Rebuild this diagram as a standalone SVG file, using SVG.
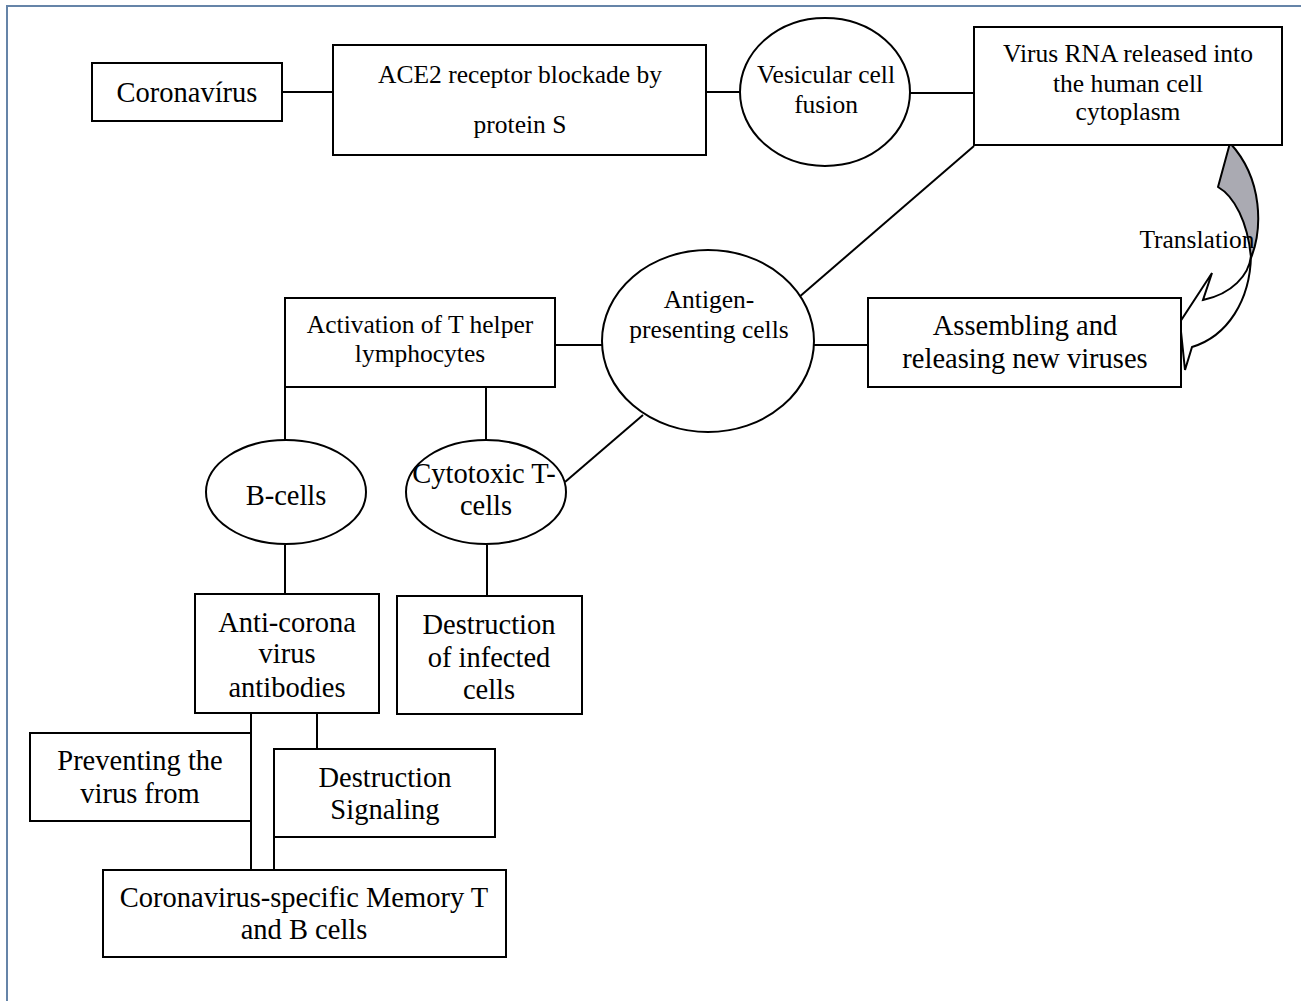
<svg xmlns="http://www.w3.org/2000/svg" width="1301" height="1001" viewBox="0 0 1301 1001">
<style>
.b{fill:#fff;stroke:#000;stroke-width:2}
.t{font-family:"Liberation Serif","Times New Roman",serif;font-size:25.5px;fill:#000;text-anchor:middle}
.L{font-size:28.5px}
.c{stroke:#000;stroke-width:2;fill:none}
</style>
<rect width="1301" height="1001" fill="#fff"/>
<path d="M7,1001 V6 H1301" fill="none" stroke="#6584a8" stroke-width="2"/>
<g id="connectors">
<line class="c" x1="282" y1="92" x2="333" y2="92"/>
<line class="c" x1="706" y1="92" x2="740" y2="92"/>
<line class="c" x1="910" y1="93" x2="974" y2="93"/>
<line class="c" x1="974" y1="146" x2="798" y2="298"/>
<line class="c" x1="555" y1="345" x2="602" y2="345"/>
<line class="c" x1="814" y1="345" x2="868" y2="345"/>
<line class="c" x1="285" y1="387" x2="285" y2="440"/>
<line class="c" x1="486" y1="387" x2="486" y2="440"/>
<line class="c" x1="565" y1="482" x2="643" y2="415"/>
<line class="c" x1="285" y1="545" x2="285" y2="594"/>
<line class="c" x1="487" y1="545" x2="487" y2="596"/>
<line class="c" x1="251" y1="713" x2="251" y2="870"/>
<line class="c" x1="317" y1="713" x2="317" y2="749"/>
<line class="c" x1="274" y1="837" x2="274" y2="870"/>
<g id="translation-arrow">
<path d="M1230,143 L1218,187 C1234,196 1248,222 1251,258 C1262,230 1264,180 1230,143 Z" fill="#aaaab2" stroke="#000" stroke-width="2" stroke-linejoin="round"/>
<path d="M1251,256 C1249,275 1232,294 1203,300 L1212,273 L1180,322 L1185,370 L1192,347 C1228,336 1250,300 1251,256 Z" fill="#fff" stroke="#000" stroke-width="2"/>
</g>
<text class="t" x="1197" y="248">Translation</text>
</g>
<g id="coronavirus">
<rect class="b" x="92" y="63" width="190" height="58"/>
<text class="t L" x="187" y="102">Coronavírus</text>
</g>
<g id="ace2">
<rect class="b" x="333" y="45" width="373" height="110"/>
<text class="t" x="520" y="83">ACE2 receptor blockade by</text>
<text class="t" x="520" y="133">protein S</text>
</g>
<g id="vesicular">
<ellipse class="b" cx="825" cy="92" rx="85" ry="74"/>
<text class="t" x="826" y="83">Vesicular cell</text>
<text class="t" x="826" y="113">fusion</text>
</g>
<g id="virus-rna">
<rect class="b" x="974" y="27" width="308" height="118"/>
<text class="t" x="1128" y="62">Virus RNA released into</text>
<text class="t" x="1128" y="92">the human cell</text>
<text class="t" x="1128" y="120">cytoplasm</text>
</g>
<g id="antigen">
<ellipse class="b" cx="708" cy="341" rx="106" ry="91"/>
<text class="t" x="709" y="308">Antigen-</text>
<text class="t" x="709" y="338">presenting cells</text>
</g>
<g id="assembling">
<rect class="b" x="868" y="298" width="313" height="89"/>
<text class="t L" x="1025" y="335">Assembling and</text>
<text class="t L" x="1025" y="368">releasing new viruses</text>
</g>
<g id="activation">
<rect class="b" x="285" y="298" width="270" height="89"/>
<text class="t" x="420" y="333">Activation of T helper</text>
<text class="t" x="420" y="362">lymphocytes</text>
</g>
<g id="b-cells">
<ellipse class="b" cx="286" cy="492" rx="80" ry="52"/>
<text class="t L" x="286" y="505">B-cells</text>
</g>
<g id="cytotoxic">
<ellipse class="b" cx="486" cy="492" rx="80" ry="52"/>
<text class="t L" x="484" y="483">Cytotoxic T-</text>
<text class="t L" x="486" y="515">cells</text>
</g>
<g id="anti-corona">
<rect class="b" x="195" y="594" width="184" height="119"/>
<text class="t L" x="287" y="632">Anti-corona</text>
<text class="t L" x="287" y="663">virus</text>
<text class="t L" x="287" y="697">antibodies</text>
</g>
<g id="destruction-infected">
<rect class="b" x="397" y="596" width="185" height="118"/>
<text class="t L" x="489" y="634">Destruction</text>
<text class="t L" x="489" y="667">of infected</text>
<text class="t L" x="489" y="699">cells</text>
</g>
<g id="preventing">
<rect class="b" x="30" y="733" width="221" height="88"/>
<text class="t L" x="140" y="770">Preventing the</text>
<text class="t L" x="140" y="803">virus from</text>
</g>
<g id="destruction-signaling">
<rect class="b" x="274" y="749" width="221" height="88"/>
<text class="t L" x="385" y="787">Destruction</text>
<text class="t L" x="385" y="819">Signaling</text>
</g>
<g id="memory">
<rect class="b" x="103" y="870" width="403" height="87"/>
<text class="t L" x="304" y="907">Coronavirus-specific Memory T</text>
<text class="t L" x="304" y="939">and B cells</text>
</g>
</svg>
